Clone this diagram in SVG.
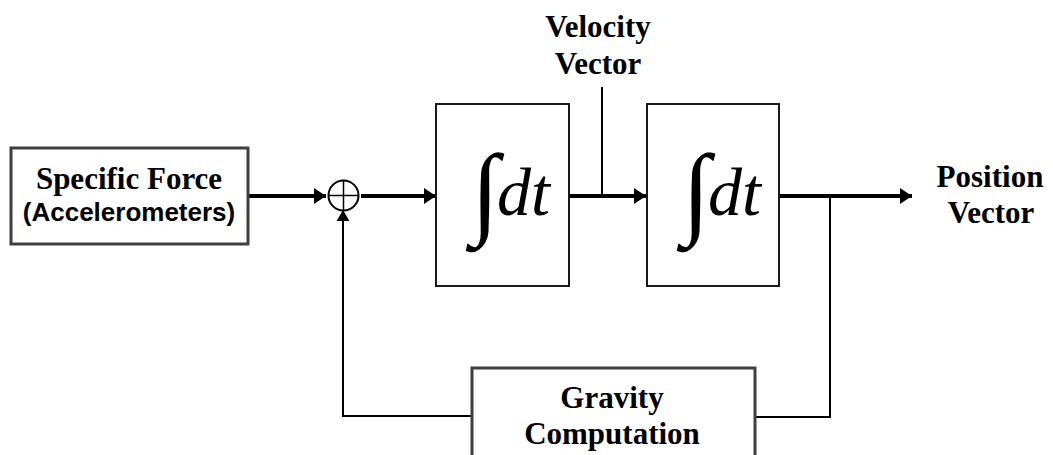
<svg xmlns="http://www.w3.org/2000/svg" width="1053" height="455" viewBox="0 0 1053 455">
<defs>
<marker id="ah" viewBox="0 0 12 16" refX="12" refY="8" markerWidth="13" markerHeight="16" markerUnits="userSpaceOnUse" orient="auto">
<path d="M0,0 L12,8 L0,16 Z" fill="#000"/>
</marker>
<marker id="ahs" viewBox="0 0 12 14" refX="12" refY="7" markerWidth="11" markerHeight="14" markerUnits="userSpaceOnUse" orient="auto">
<path d="M0,0 L12,7 L0,14 Z" fill="#000"/>
</marker>
</defs>
<style>
.gbox{fill:#fff;stroke:#404040;stroke-width:3}
.ibox{fill:#fff;stroke:#1a1a1a;stroke-width:2}
.lbl{font-family:"Liberation Serif","Times New Roman",serif;font-weight:bold;font-size:31px;fill:#000;text-anchor:middle}
.sans{font-family:"Liberation Sans",Arial,sans-serif;font-weight:bold;font-size:26px;fill:#000;text-anchor:middle}
.int{font-family:"Liberation Serif","Times New Roman",serif;font-style:italic;fill:#000}
.thick{fill:none;stroke:#000;stroke-width:4}
.thin{fill:none;stroke:#000;stroke-width:2}
</style>
<g id="connectors">
<line class="thick" x1="249" y1="196" x2="326" y2="196" marker-end="url(#ah)"/>
<line class="thick" x1="361" y1="196" x2="436" y2="196" marker-end="url(#ah)"/>
<line class="thick" x1="570" y1="196" x2="646" y2="196" marker-end="url(#ah)"/>
<line class="thick" x1="780" y1="196" x2="912" y2="196" marker-end="url(#ah)"/>
<polyline class="thin" points="830,196 830,417 756,417"/>
<polyline class="thin" points="471,416 343,416 343,210" marker-end="url(#ahs)"/>
<line class="thin" x1="602" y1="87" x2="602" y2="194"/>
</g>
<g id="specific-force">
<rect class="gbox" x="11" y="148" width="237" height="96"/>
<text class="lbl" x="129" y="189">Specific Force</text>
<text class="sans" x="129" y="221">(Accelerometers)</text>
</g>
<g id="sum">
<circle cx="343.5" cy="195.5" r="15" fill="#fff" stroke="#000" stroke-width="2"/>
<line x1="328.5" y1="195.5" x2="358.5" y2="195.5" stroke="#000" stroke-width="1.5"/>
<line x1="343.5" y1="180.5" x2="343.5" y2="210.5" stroke="#000" stroke-width="1.5"/>
</g>
<g id="integrator1">
<rect class="ibox" x="436" y="104" width="133" height="182"/>
<text class="int" x="471" y="225" font-size="102">∫</text>
<text class="int" x="497" y="215" font-size="68">dt</text>
</g>
<g id="integrator2">
<rect class="ibox" x="647" y="104" width="132" height="182"/>
<text class="int" x="682" y="225" font-size="102">∫</text>
<text class="int" x="708" y="215" font-size="68">dt</text>
</g>
<g id="velocity-label">
<text class="lbl" x="598" y="37">Velocity</text>
<text class="lbl" x="598" y="74">Vector</text>
</g>
<g id="position-label">
<text class="lbl" x="990" y="187">Position</text>
<text class="lbl" x="991" y="223">Vector</text>
</g>
<g id="gravity">
<rect class="gbox" x="472" y="368" width="283" height="100"/>
<text class="lbl" x="612" y="408">Gravity</text>
<text class="lbl" x="612" y="444">Computation</text>
</g>
</svg>
